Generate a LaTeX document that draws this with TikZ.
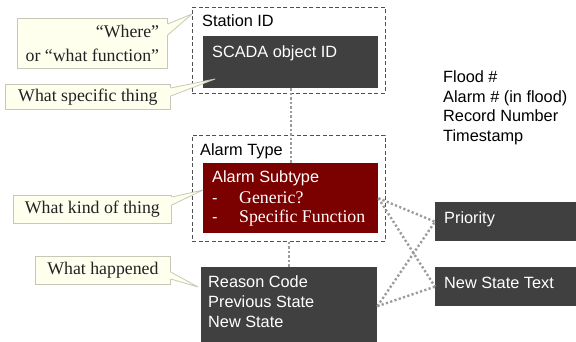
\documentclass[tikz,border=0pt]{standalone}
\usepackage{fontspec}
\setmainfont{Liberation Serif}
\setsansfont{Liberation Sans}
\usetikzlibrary{calc}
\definecolor{boxgray}{HTML}{404040}
\definecolor{boxred}{HTML}{7B0000}
\definecolor{cream}{HTML}{FFFFEE}
\definecolor{cborder}{HTML}{C8C8B8}
\definecolor{dotgray}{HTML}{9C9C9C}
\definecolor{framegray}{HTML}{505050}
\definecolor{calltext}{HTML}{222222}
\tikzset{
  darkbox/.style={fill=boxgray, draw=none, anchor=north west, inner sep=0pt},
  redbox/.style={fill=boxred, draw=none, anchor=north west, inner sep=0pt},
  framebox/.style={draw=framegray, line width=0.9pt, dash pattern=on 4pt off 2.5pt, anchor=north west, inner sep=0pt},
  wsans/.style={font=\sffamily\fontsize{16.3}{19.6}\selectfont, text=white, anchor=base west, inner sep=0pt},
  bsans/.style={font=\sffamily\fontsize{16.3}{19.6}\selectfont, text=black, anchor=base west, inner sep=0pt},
  wserif/.style={font=\rmfamily\fontsize{17.8}{22}\selectfont, text=white, anchor=base west, inner sep=0pt},
  callout/.style={fill=cream, draw=cborder, line width=0.8pt, anchor=north west, inner sep=0pt,
    font=\rmfamily\fontsize{17.8}{24}\selectfont, text=calltext},
  pointerfill/.style={fill=cream},
  pointerline/.style={draw=cborder, line width=0.8pt, line join=round},
  dotline/.style={draw=dotgray, line width=2.4pt, dash pattern=on 2.2pt off 2.3pt},
}
\begin{document}
\begin{tikzpicture}[x=1pt, y=-1pt]
\useasboundingbox (0,0) rectangle (576,341);
\clip (0,0) rectangle (576,341);
\fill[white] (0,0) rectangle (576,341);

% frames
\node[framebox, minimum width=193pt, minimum height=86pt] (frame1) at (192,7) {};
\node[framebox, minimum width=193pt, minimum height=106pt] (frame2) at (192,135) {};
\node[bsans] (stationid) at (202,26) {Station ID};
\node[bsans] (alarmtype) at (200,155) {Alarm Type};

% boxes
\node[darkbox, minimum width=175pt, minimum height=52pt] (scada) at (203,36) {};
\node[redbox, minimum width=175pt, minimum height=70pt] (sub) at (203,163) {};
\node[darkbox, minimum width=176pt, minimum height=78pt] (reason) at (201,267) {};
\node[darkbox, minimum width=145pt, minimum height=39pt] (prio) at (435,202) {};
\node[darkbox, minimum width=145pt, minimum height=39pt] (nst) at (435,267) {};

% box texts
\node[wsans] (scadatxt) at (212,57) {SCADA object ID};
\node[wsans] (subtxt) at (212,182) {Alarm Subtype};
\node[wsans] (dash1) at (212,203) {-};
\node[wserif] (generic) at (239,203) {Generic?};
\node[wsans] (dash2) at (212,222) {-};
\node[wserif] (specific) at (239,222) {Specific Function};
\node[wsans] (rc) at (208,287) {Reason Code};
\node[wsans] (ps) at (208,307) {Previous State};
\node[wsans] (ns) at (208,327) {New State};
\node[wsans] (priotxt) at (444,223) {Priority};
\node[wsans] (nsttxt) at (444,288) {New State Text};

% list
\node[bsans] (flood) at (443,82) {Flood \#};
\node[bsans] (alarmno) at (443,102) {Alarm \# (in flood)};
\node[bsans] (record) at (443,121) {Record Number};
\node[bsans] (tstamp) at (443,141) {Timestamp};

% dotted connectors
\draw[dotline] (scada.south) -- (sub.north);
\draw[dotline] (frame2.south) -- (frame2.south |- reason.north);
\draw[dotline] (sub.east) -- (prio.west);
\draw[dotline] (sub.east) -- (nst.west);
\draw[dotline] (reason.east) -- (prio.west);
\draw[dotline] (reason.east) -- (nst.west);

% callouts
\node[callout, minimum width=150pt, minimum height=50pt, align=right] (c1) at (17,18) {“Where”\\or “what function”};
\node[callout, minimum width=165pt, minimum height=25pt] (c2) at (5,84) {What specific thing};
\node[callout, minimum width=158pt, minimum height=28pt] (c3) at (13,195) {What kind of thing};
\node[callout, minimum width=135pt, minimum height=28pt] (c4) at (35,256) {What happened};

\coordinate (t1) at (192,14);
\coordinate (t2) at (215,79);
\coordinate (t3) at (203,190);
\coordinate (t4) at (198,287);

\fill[pointerfill] ($(c1.north east)+(-0.8,6)$) -- (t1) -- ($(c1.north east)+(-0.8,17)$) -- cycle;
\draw[pointerline] ($(c1.north east)+(0,6)$) -- (t1) -- ($(c1.north east)+(0,17)$);
\fill[pointerfill] ($(c2.north east)+(-0.8,4)$) -- (t2) -- ($(c2.north east)+(-0.8,12)$) -- cycle;
\draw[pointerline] ($(c2.north east)+(0,4)$) -- (t2) -- ($(c2.north east)+(0,12)$);
\fill[pointerfill] ($(c3.north east)+(-0.8,2)$) -- (t3) -- ($(c3.north east)+(-0.8,10)$) -- cycle;
\draw[pointerline] ($(c3.north east)+(0,2)$) -- (t3) -- ($(c3.north east)+(0,10)$);
\fill[pointerfill] ($(c4.north east)+(-0.8,16)$) -- (t4) -- ($(c4.north east)+(-0.8,23)$) -- cycle;
\draw[pointerline] ($(c4.north east)+(0,16)$) -- (t4) -- ($(c4.north east)+(0,23)$);
\end{tikzpicture}
\end{document}
